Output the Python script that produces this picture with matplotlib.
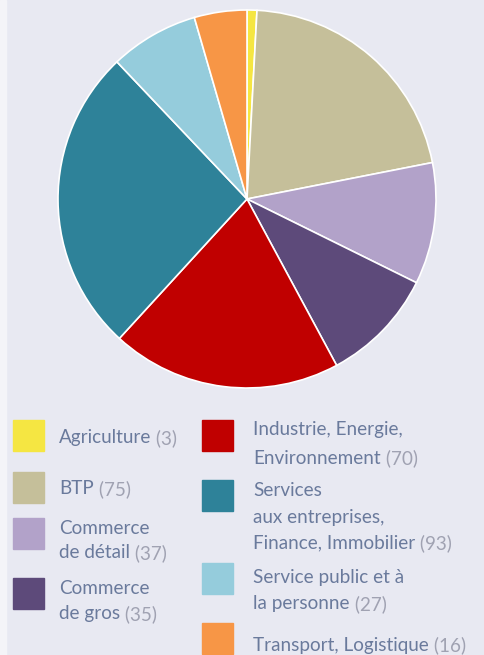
import matplotlib.pyplot as plt
from matplotlib.patches import Rectangle

# données
secteurs = ["Agriculture", "BTP", "Commerce\nde détail", "Commerce\nde gros",
            "Industrie, Energie,\nEnvironnement",
            "Services\naux entreprises,\nFinance, Immobilier",
            "Service public et à\nla personne", "Transport, Logistique"]
valeurs = [3, 75, 37, 35, 70, 93, 27, 16]
couleurs = ["#f5e642", "#c5bf9a", "#b2a2c9", "#5d4a7a",
            "#c00000", "#2e8299", "#95ccdc", "#f79646"]

W, H = 485, 655
bg = "#e8e9f2"
txt_col = "#6a7a9c"
num_col = "#a0a2b2"

fig = plt.figure(figsize=(W / 100, H / 100), dpi=100)
fig.patch.set_facecolor(bg)
fig.patches.append(Rectangle((0, 0), 6 / W, 1, transform=fig.transFigure,
                             color="#f4f4f8", zorder=0))

# camembert
cx, cy, r = 247, 199, 189
ax = fig.add_axes([(cx - r) / W, (H - cy - r) / H, 2 * r / W, 2 * r / H])
ax.pie(valeurs, colors=couleurs, startangle=90, counterclock=False,
       wedgeprops=dict(edgecolor="white", linewidth=1.2))
ax.set_xlim(-1, 1)
ax.set_ylim(-1, 1)
ax.set_aspect("equal")
ax.axis("off")

# légende (positions en pixels)
font = dict(family="Lato", fontweight="normal", fontsize=13.6)
# (x carré, y haut carré, x texte, y des lignes)
places = [
    (13, 420, 59, [438]),
    (13, 472, 59, [489]),
    (13, 518, 59, [529, 553]),
    (13, 578, 59, [588, 614]),
    (202, 420, 253, [430, 458]),
    (202, 480, 253, [490, 518, 543]),
    (202, 563, 253, [577, 604]),
    (202, 623, 253, [645]),
]

for nom, val, col, (sx, sy, tx, ys) in zip(secteurs, valeurs, couleurs, places):
    fig.patches.append(Rectangle((sx / W, 1 - (sy + 31) / H), 31 / W, 31 / H,
                                 transform=fig.transFigure, color=col))
    t = None
    for ligne, y in zip(nom.split("\n"), ys):
        t = fig.text(tx / W, 1 - y / H, ligne, color=txt_col, va="center",
                     ha="left", **font)
    ax.annotate(" (%d)" % val, xy=(1, 0.5), xycoords=t, va="center",
                ha="left", color=num_col, annotation_clip=False, **font)

fig.savefig("out.png", dpi=100, facecolor=bg)
